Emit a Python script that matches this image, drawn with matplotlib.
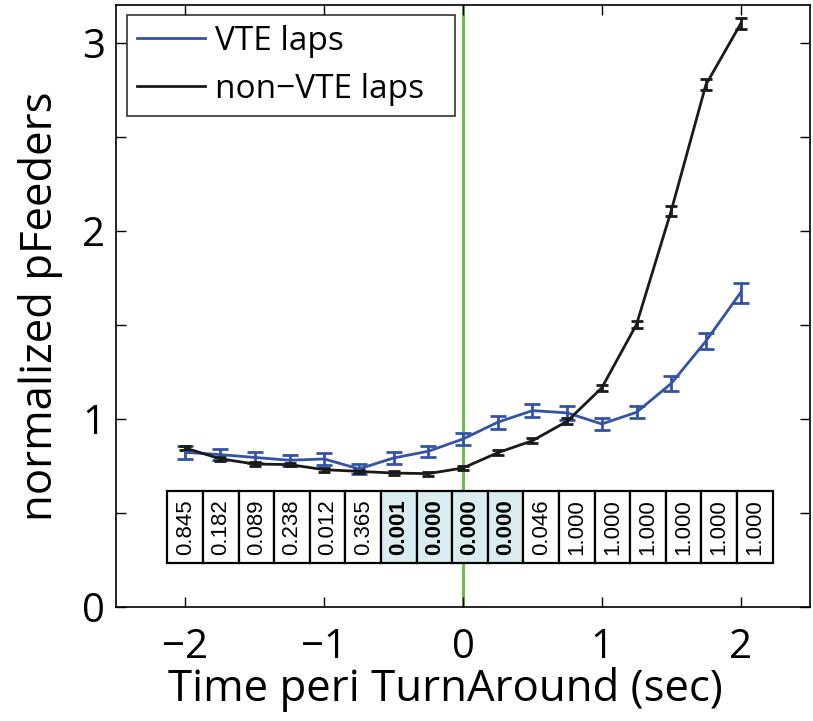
import matplotlib
matplotlib.use("Agg")
import matplotlib.pyplot as plt
from matplotlib.patches import Rectangle
from matplotlib.lines import Line2D
import numpy as np

# ---------------- data ----------------
time = [-2.0, -1.75, -1.5, -1.25, -1.0, -0.75, -0.5, -0.25, 0.0,
        0.25, 0.5, 0.75, 1.0, 1.25, 1.5, 1.75, 2.0]
vte_mean = [0.822, 0.810, 0.795, 0.780, 0.787, 0.734, 0.792, 0.828, 0.893,
            0.982, 1.044, 1.032, 0.973, 1.035, 1.188, 1.413, 1.671]
vte_err = [0.033, 0.030, 0.030, 0.028, 0.030, 0.025, 0.030, 0.030, 0.032,
           0.034, 0.033, 0.037, 0.030, 0.032, 0.038, 0.044, 0.053]
nonvte_mean = [0.845, 0.788, 0.760, 0.757, 0.730, 0.721, 0.712, 0.709, 0.739,
               0.820, 0.884, 0.987, 1.165, 1.502, 2.106, 2.776, 3.100]
nonvte_err = [0.012, 0.010, 0.010, 0.010, 0.010, 0.010, 0.010, 0.010, 0.012,
              0.012, 0.012, 0.015, 0.016, 0.020, 0.027, 0.030, 0.030]
p_values = ["0.845", "0.182", "0.089", "0.238", "0.012", "0.365", "0.001",
            "0.000", "0.000", "0.000", "0.046", "1.000", "1.000", "1.000",
            "1.000", "1.000", "1.000"]
series_labels = ["VTE laps", "non\u2212VTE laps"]
xticks = [-2, -1, 0, 1, 2]
yticks_major = [0, 1, 2, 3]
yticks_minor = [0.5, 1.5, 2.5]
xlabel = "Time peri TurnAround (sec)"
ylabel = "normalized pFeeders"

# ---------------- style ----------------
BLUE = "#3352a8"
BLACK = "#1a1a1a"
GREEN = "#6cc04a"
SHADE = "#d9ecf0"
FONT = ["Open Sans", "DejaVu Sans"]
LW = 2.0

fig = plt.figure(figsize=(8.13, 7.21), dpi=100)
ax = fig.add_axes([116 / 813, (721 - 607) / 721, (810 - 116) / 813, (607 - 5) / 721])

ax.axvline(0, color=GREEN, lw=2.2, zorder=1)

ax.errorbar(time, vte_mean, yerr=vte_err, color=BLUE, lw=LW, elinewidth=LW,
            capsize=5.8, capthick=LW, zorder=3)
ax.errorbar(time, nonvte_mean, yerr=nonvte_err, color=BLACK, lw=LW, elinewidth=LW,
            capsize=4.5, capthick=LW, zorder=3)

# p-value table
n = len(p_values)
tab_left, tab_right = -2.13, 2.23
tab_bot, tab_top = 0.234, 0.618
cw = (tab_right - tab_left) / n
for i, p in enumerate(p_values):
    sig = float(p) < 0.01
    x0 = tab_left + i * cw
    ax.add_patch(Rectangle((x0, tab_bot), cw, tab_top - tab_bot,
                           facecolor=SHADE if sig else "white",
                           edgecolor="black", lw=1.6, zorder=4))
    ax.text(x0 + cw / 2, (tab_bot + tab_top) / 2, p, rotation=90,
            ha="center", va="center", fontsize=16,
            fontweight="bold" if sig else "normal",
            family=["Liberation Sans", "DejaVu Sans"], zorder=5)

ax.set_xlim(-2.5, 2.5)
ax.set_ylim(0, 3.2)
ax.set_xticks(xticks)
ax.set_xticklabels([("\u2212%d" % abs(v)) if v < 0 else "%d" % v for v in xticks])
ax.set_yticks(yticks_major)
ax.set_yticks(yticks_minor, minor=True)
ax.tick_params(which="both", direction="in", top=True, right=True, length=7,
               width=1.0, labelsize=29)
ax.tick_params(axis="x", pad=15)
ax.tick_params(axis="y", pad=8)
for lab in ax.get_xticklabels() + ax.get_yticklabels():
    lab.set_family(FONT)
for s in ax.spines.values():
    s.set_linewidth(1.2)

ax.set_xlabel(xlabel, fontsize=31.5, family=FONT)
ax.set_ylabel(ylabel, fontsize=31.5, family=FONT)
ax.xaxis.set_label_coords(0.474, -0.100)
ax.yaxis.set_label_coords(-0.076, 0.5)

handles = [Line2D([], [], color=BLUE, lw=LW), Line2D([], [], color=BLACK, lw=LW)]
leg = ax.legend(handles, series_labels, loc="upper left",
                bbox_to_anchor=(11 / 694, 0, 328 / 694, (607 - 15) / 602),
                mode="expand", borderaxespad=0,
                frameon=True, fancybox=False, edgecolor="black",
                prop={"family": FONT, "size": 24}, handlelength=2.05,
                borderpad=0.3, handletextpad=0.3, labelspacing=0.45)
leg.get_frame().set_linewidth(1.2)

fig.savefig("out.png", dpi=100)
